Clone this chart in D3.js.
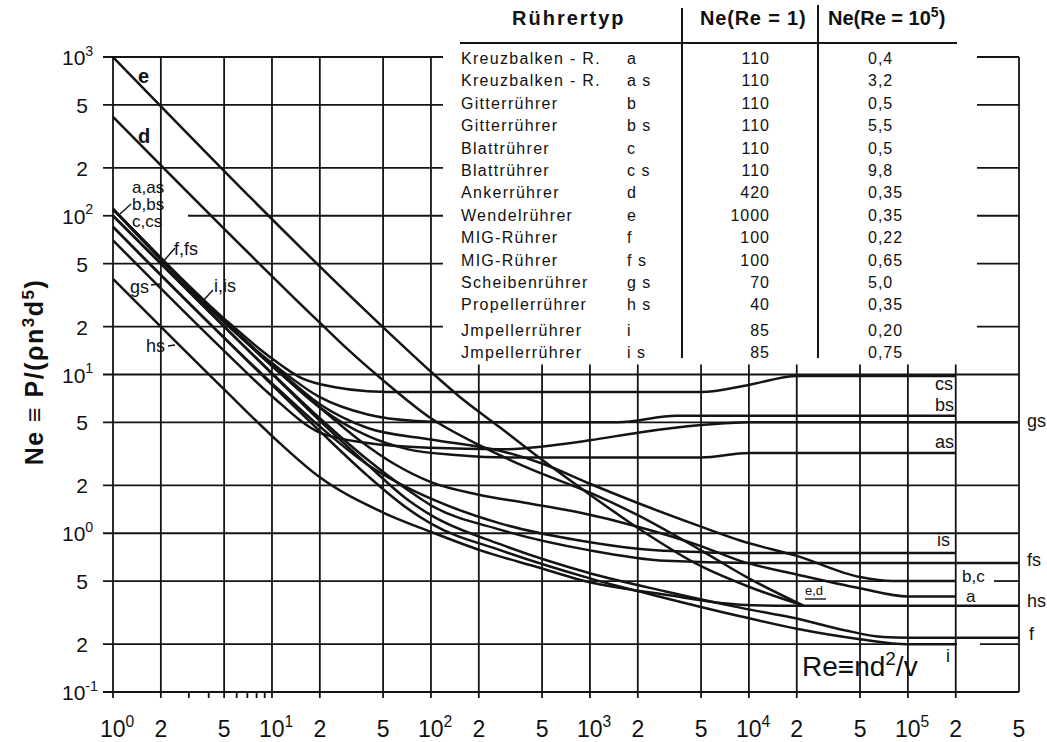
<!DOCTYPE html>
<html>
<head>
<meta charset="utf-8">
<script src="https://cdn.jsdelivr.net/npm/d3@7"></script>
<style>
  html, body { margin: 0; padding: 0; background: #fff; }
  svg text { font-family: "Liberation Sans", "DejaVu Sans", Arial, sans-serif; fill: #111; }
</style>
</head>
<body>
<svg id="chart" width="1047" height="742"></svg>
<script>
// ---- axis ticks -------------------------------------------------------
const reTicks = [1, 2, 5, 10, 20, 50, 100, 200, 500, 1e3, 2e3, 5e3, 1e4, 2e4, 5e4, 1e5, 2e5, 5e5];
const reTickLabels = ["10^0", "2", "5", "10^1", "2", "5", "10^2", "2", "5", "10^3", "2", "5", "10^4", "2", "5", "10^5", "2", "5"];
const reMinorTicks = [3, 4, 6, 7, 8, 9];
const neTicks = [1000, 500, 200, 100, 50, 20, 10, 5, 2, 1, 0.5, 0.2, 0.1];
const neTickLabels = ["10^3", "5", "2", "10^2", "5", "2", "10^1", "5", "2", "10^0", "5", "2", "10^-1"];

// ---- table of stirrer types ------------------------------------------
const stirrerNames = ["Kreuzbalken - R.", "Kreuzbalken - R.", "Gitterrührer", "Gitterrührer", "Blattrührer", "Blattrührer",
  "Ankerrührer", "Wendelrührer", "MIG-Rührer", "MIG-Rührer", "Scheibenrührer", "Propellerrührer", "Jmpellerrührer", "Jmpellerrührer"];
const stirrerCodes = ["a", "a s", "b", "b s", "c", "c s", "d", "e", "f", "f s", "g s", "h s", "i", "i s"];
const neAtRe1 = ["110", "110", "110", "110", "110", "110", "420", "1000", "100", "100", "70", "40", "85", "85"];
const neAtRe1e5 = ["0,4", "3,2", "0,5", "5,5", "0,5", "9,8", "0,35", "0,35", "0,22", "0,65", "5,0", "0,35", "0,20", "0,75"];

// ---- power characteristics: [Re, Ne] ---------------------------------
const curveA  = [[1,110],[10,11.3],[20,6.2],[35,3.9],[60,2.7],[100,2.1],[200,1.75],[400,1.55],[860,1.35],[2e3,1.1],[5e3,0.83],[8.8e3,0.67],[2e4,0.55],[5e4,0.45],[1e5,0.4],[2e5,0.4]];
const curveBC = [[1,110],[10,11.6],[20,6.5],[40,4.6],[100,3.9],[275,3.3],[500,2.75],[1e3,2.05],[2e3,1.55],[5e3,1.1],[8.8e3,0.9],[2e4,0.72],[5e4,0.53],[8e4,0.5],[2e5,0.5]];
const curveAS = [[1,110],[10,11.4],[20,6.2],[40,4.1],[70,3.4],[150,3.1],[300,3.0],[5e3,3.0],[1e4,3.2],[2e5,3.2]];
const curveBS = [[1,110],[10,11.8],[20,7.2],[40,5.6],[80,5.1],[150,5.0],[1.5e3,5.0],[3.5e3,5.5],[2e5,5.5]];
const curveCS = [[1,110],[5,22.5],[10,12.6],[15,9.6],[25,8.3],[40,7.85],[70,7.75],[5e3,7.75],[1e4,8.6],[2e4,9.8],[2e5,9.8]];
const curveGS = [[1,70],[5,14.1],[10,7.3],[20,4.3],[40,3.7],[100,3.45],[275,3.38],[1e3,3.85],[2e3,4.3],[5e3,4.8],[1e4,5.0],[5e5,5.0]];
const curveD  = [[1,420],[20,21.2],[30,14.4],[50,9.2],[100,5.3],[200,3.6],[400,2.6],[1e3,1.8],[2e3,1.3],[5e3,0.78],[1e4,0.52],[2.2e4,0.35]];
const curveE  = [[1,1000],[60,16.7],[100,10.4],[150,7.3],[275,4.6],[500,2.9],[1e3,1.75],[2e3,1.08],[5e3,0.62],[1e4,0.46],[2.2e4,0.35]];
const curveF  = [[1,100],[10,10.1],[20,5.1],[40,2.7],[70,1.65],[100,1.3],[275,0.85],[1e3,0.56],[3e3,0.43],[8.8e3,0.34],[2e4,0.29],[4e4,0.245],[7e4,0.222],[1e5,0.22],[5e5,0.22]];
const curveFS = [[1,100],[10,10.2],[20,5.3],[40,2.9],[70,1.9],[100,1.5],[275,1.05],[1e3,0.78],[3e3,0.67],[1e4,0.65],[5e5,0.65]];
const curveI  = [[1,85],[10,8.6],[20,4.4],[40,2.3],[70,1.45],[100,1.15],[275,0.78],[1e3,0.52],[3e3,0.39],[8.8e3,0.3],[2e4,0.25],[5e4,0.215],[1e5,0.2],[2e5,0.2]];
const curveIS = [[1,85],[10,8.8],[20,4.7],[40,2.7],[70,1.95],[100,1.65],[275,1.15],[860,0.9],[2e3,0.8],[5e3,0.76],[1e4,0.75],[2e5,0.75]];
const curveHS = [[1,40],[5,8.05],[10,4.1],[20,2.25],[50,1.35],[100,1.02],[205,0.78],[500,0.6],[860,0.51],[3e3,0.41],[8.8e3,0.355],[1.5e4,0.35],[5e5,0.35]];

const curves = [curveA, curveBC, curveAS, curveBS, curveCS, curveGS, curveD, curveE, curveF, curveFS, curveI, curveIS, curveHS];

// ---- scales -----------------------------------------------------------
const svg = d3.select("#chart");
const x = d3.scaleLog().domain([1, 5e5]).range([113, 1019]);
const y = d3.scaleLog().domain([0.1, 1000]).range([692, 57]);
const INK = "#141414";

const grid = svg.append("g").attr("stroke", INK).attr("stroke-width", 1.8).attr("fill", "none");

// vertical grid: full height on the left, lower half beside the table
reTicks.forEach(v => {
  const px = x(v);
  if (v === 5e5) {
    grid.append("line").attr("x1", px).attr("x2", px).attr("y1", y(1000)).attr("y2", y(0.1));
  } else {
    const top = v <= 100 ? y(1000) : y(10) - 10;
    grid.append("line").attr("x1", px).attr("x2", px).attr("y1", top).attr("y2", y(0.1) + 6);
  }
});
// minor ticks of the first decade
reMinorTicks.forEach(v => {
  grid.append("line").attr("x1", x(v)).attr("x2", x(v)).attr("y1", y(0.1)).attr("y2", y(0.1) + 6);
});

// horizontal grid
neTicks.forEach(v => {
  const py = y(v);
  if (v > 10) {
    if (v === 100) {
      grid.append("line").attr("x1", 103).attr("x2", x(1)).attr("y1", py).attr("y2", py);
      grid.append("line").attr("x1", 188).attr("x2", 443).attr("y1", py).attr("y2", py);
    } else {
      grid.append("line").attr("x1", 103).attr("x2", 443).attr("y1", py).attr("y2", py);
    }
    grid.append("line").attr("x1", 977).attr("x2", x(5e5)).attr("y1", py).attr("y2", py);
  } else if (v === 0.5) {
    grid.append("line").attr("x1", 103).attr("x2", 955).attr("y1", py).attr("y2", py);
    grid.append("line").attr("x1", 994).attr("x2", x(5e5)).attr("y1", py).attr("y2", py);
  } else if (v === 0.2) {
    grid.append("line").attr("x1", 103).attr("x2", 957).attr("y1", py).attr("y2", py);
    grid.append("line").attr("x1", 980).attr("x2", x(5e5)).attr("y1", py).attr("y2", py);
  } else {
    grid.append("line").attr("x1", 103).attr("x2", x(5e5)).attr("y1", py).attr("y2", py);
  }
});

// ---- tick labels ------------------------------------------------------
function powerLabel(sel, label, size) {
  const parts = label.split("^");
  sel.append("tspan").text(parts[0]);
  if (parts[1] !== undefined) {
    sel.append("tspan").attr("dy", -size * 0.45).attr("font-size", size * 0.68).text(parts[1]);
  }
}
reTicks.forEach((v, i) => {
  const lab = reTickLabels[i];
  const isPow = lab.includes("^");
  const t = svg.append("text").attr("font-size", 23)
    .attr("x", isPow ? x(v) - 13 : x(v)).attr("y", 737)
    .attr("text-anchor", isPow ? "start" : "middle");
  powerLabel(t, lab, 23);
});
neTicks.forEach((v, i) => {
  const lab = neTickLabels[i];
  const isPow = lab.includes("^");
  const t = svg.append("text").attr("font-size", 21)
    .attr("x", isPow ? 62 : 88).attr("y", y(v) + 8)
    .attr("text-anchor", isPow ? "start" : "end");
  powerLabel(t, lab, 21);
});

// axis titles
const yt = svg.append("text").attr("font-size", 25).attr("font-weight", "bold").attr("letter-spacing", 1.5)
  .attr("transform", "translate(43,372) rotate(-90)").attr("text-anchor", "middle");
yt.append("tspan").text("Ne \u2261 P/(\u03C1n");
yt.append("tspan").attr("dy", -9).attr("font-size", 17).text("3");
yt.append("tspan").attr("dy", 9).text("d");
yt.append("tspan").attr("dy", -9).attr("font-size", 17).text("5");
yt.append("tspan").attr("dy", 9).text(")");

const xt = svg.append("text").attr("font-size", 28).attr("x", 802).attr("y", 676);
xt.append("tspan").text("Re\u2261nd");
xt.append("tspan").attr("dy", -11).attr("font-size", 19).text("2");
xt.append("tspan").attr("dy", 11).text("/v");

// ---- curves -----------------------------------------------------------
const line = d3.line().x(d => x(d[0])).y(d => y(d[1])).curve(d3.curveMonotoneX);
svg.append("g").selectAll("path").data(curves).join("path")
  .attr("d", line).attr("fill", "none").attr("stroke", INK).attr("stroke-width", 2.5);

// ---- curve labels -----------------------------------------------------
const lab = svg.append("g");
function tag(txt, px, py, size, weight) {
  lab.append("text").attr("x", px).attr("y", py).attr("font-size", size || 18)
    .attr("font-weight", weight || "normal").text(txt);
}
tag("e", 138, 83, 20, "bold");
tag("d", 138, 143, 20, "bold");
tag("a,as", 132, 193, 17);
tag("b,bs", 132, 210, 17);
tag("c,cs", 132, 227, 17);
tag("f,fs", 174, 255, 18);
tag("gs", 130, 293, 18);
tag("i,is", 214, 292, 18);
tag("hs", 146, 352, 18);
tag("cs", 935, 390, 18);
tag("bs", 935, 411, 18);
tag("as", 935, 448, 18);
tag("is", 937, 546, 18);
tag("b,c", 962, 582, 17);
tag("a", 966, 602, 17);
tag("e,d", 805, 595, 13);
tag("gs", 1027, 427, 18);
tag("fs", 1027, 566, 18);
tag("hs", 1027, 607, 18);
tag("f", 1029, 640, 18);
tag("i", 946, 662, 18);

const leaders = svg.append("g").attr("stroke", INK).attr("stroke-width", 1.4);
[[120, 214, 131, 204], [162, 263, 175, 248], [200, 304, 213, 290], [151, 285, 160, 284], [168, 346, 175, 345], [805, 599, 826, 599]]
  .forEach(s => leaders.append("line").attr("x1", s[0]).attr("y1", s[1]).attr("x2", s[2]).attr("y2", s[3]));

// ---- table --------------------------------------------------------------
const tbl = svg.append("g");
tbl.append("text").attr("x", 512).attr("y", 25).attr("font-size", 20).attr("font-weight", "bold").attr("letter-spacing", 2).text("Rührertyp");
const h2 = tbl.append("text").attr("x", 700).attr("y", 25).attr("font-size", 20).attr("font-weight", "bold").attr("letter-spacing", 0.8);
h2.text("Ne(Re = 1)");
const h3 = tbl.append("text").attr("x", 828).attr("y", 25).attr("font-size", 20).attr("font-weight", "bold");
h3.append("tspan").text("Ne(Re = 10");
h3.append("tspan").attr("dy", -8).attr("font-size", 14).text("5");
h3.append("tspan").attr("dy", 8).text(")");
tbl.append("line").attr("x1", 460).attr("x2", 957).attr("y1", 43).attr("y2", 43).attr("stroke", INK).attr("stroke-width", 2.2);
tbl.append("line").attr("x1", 682).attr("x2", 682).attr("y1", 8).attr("y2", 358).attr("stroke", INK).attr("stroke-width", 2);
tbl.append("line").attr("x1", 818).attr("x2", 818).attr("y1", 5).attr("y2", 358).attr("stroke", INK).attr("stroke-width", 2);

stirrerNames.forEach((n, i) => {
  const ry = 64 + i * 22.4 + (i >= 12 ? 3 : 0);
  tbl.append("text").attr("x", 461).attr("y", ry).attr("font-size", 16).attr("letter-spacing", 1.3).text(n);
  tbl.append("text").attr("x", 627).attr("y", ry).attr("font-size", 16).attr("letter-spacing", 1).text(stirrerCodes[i]);
  tbl.append("text").attr("x", 770).attr("y", ry).attr("font-size", 16).attr("text-anchor", "end").attr("letter-spacing", 1).text(neAtRe1[i]);
  tbl.append("text").attr("x", 868).attr("y", ry).attr("font-size", 16).attr("letter-spacing", 1).text(neAtRe1e5[i]);
});
</script>
</body>
</html>
